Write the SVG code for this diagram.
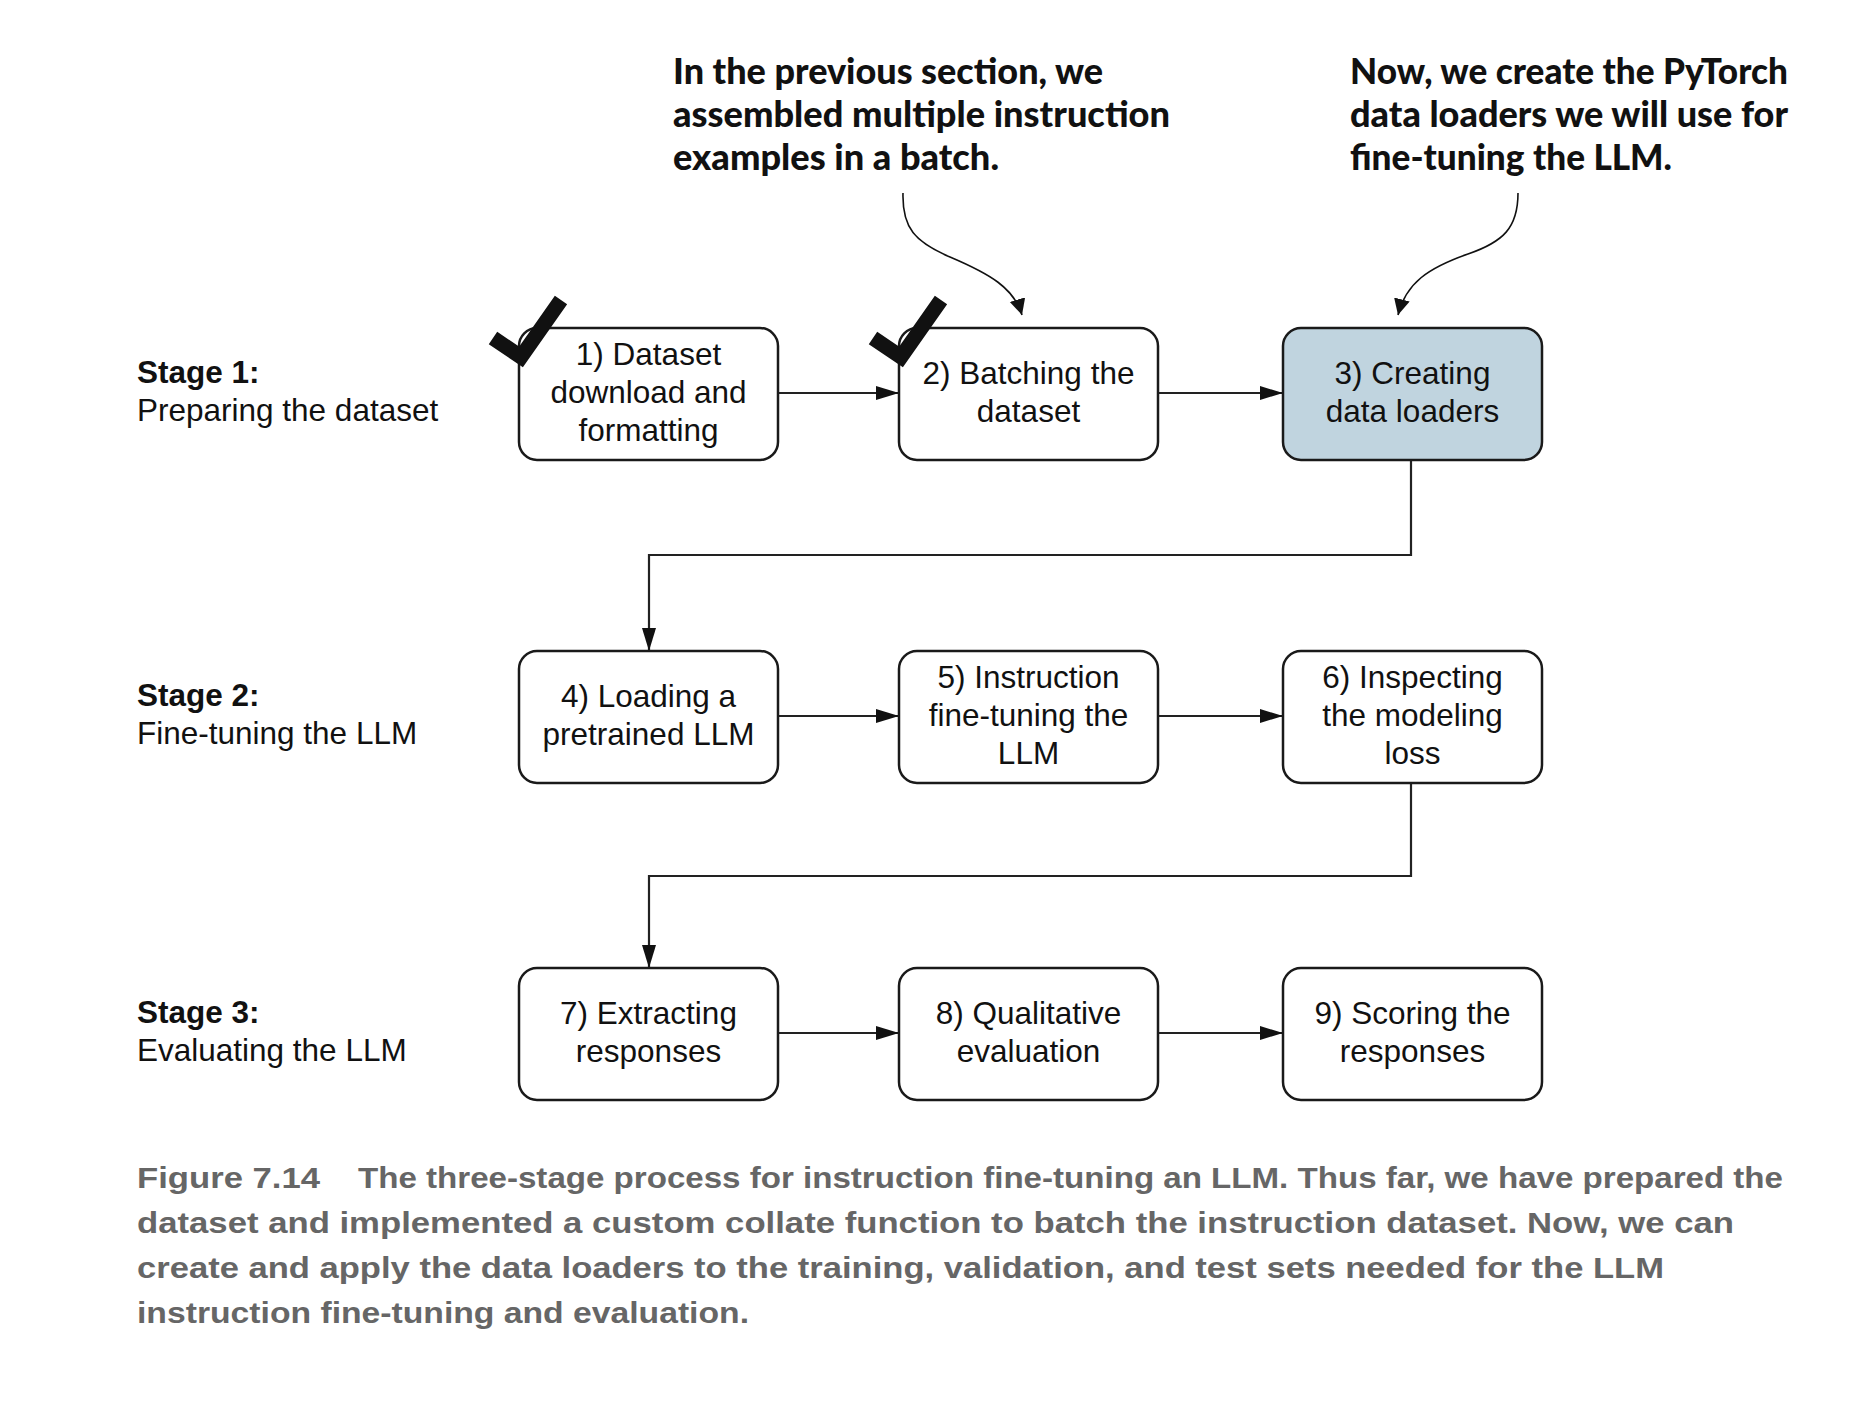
<svg xmlns="http://www.w3.org/2000/svg" width="1858" height="1404" viewBox="0 0 1858 1404">
<defs>
<style>
.box{fill:#ffffff;stroke:#1a1a1a;stroke-width:2.5}
.hl{fill:#c0d4df}
.t{font-family:"Liberation Sans",Arial,sans-serif;font-size:31.5px;fill:#111;text-anchor:middle}
.st{font-family:"Liberation Sans",Arial,sans-serif;font-size:31.5px;fill:#111}
.b{font-weight:bold}
.co{font-family:Lato,"Open Sans",sans-serif;font-weight:900;font-size:36px;fill:#111}
.cap{font-family:"Liberation Sans",Arial,sans-serif;font-weight:bold;font-size:30px;fill:#666666}
.ln{fill:none;stroke:#222;stroke-width:2.2}
.cv{fill:none;stroke:#111;stroke-width:1.6}
.chk{fill:none;stroke:#111;stroke-width:15;stroke-linejoin:miter;stroke-linecap:butt}
</style>
<marker id="ah" markerUnits="userSpaceOnUse" markerWidth="24" markerHeight="14" refX="23" refY="7" orient="auto">
<path d="M0,0 L23,7 L0,14 Z" fill="#111"/>
</marker>
<marker id="ah2" markerUnits="userSpaceOnUse" markerWidth="17" markerHeight="17" refX="16" refY="8" orient="auto">
<path d="M0,0 L16,8 L0,16 Z" fill="#111"/>
</marker>
</defs>
<rect width="1858" height="1404" fill="#ffffff"/>

<g id="callouts">
<g id="callout1">
<text class="co" x="673" y="84" textLength="430" lengthAdjust="spacingAndGlyphs">In the previous section, we</text>
<text class="co" x="673" y="127" textLength="497" lengthAdjust="spacingAndGlyphs">assembled multiple instruction</text>
<text class="co" x="673" y="170" textLength="326" lengthAdjust="spacingAndGlyphs">examples in a batch.</text>
</g>
<g id="callout2">
<text class="co" x="1350" y="84" textLength="438" lengthAdjust="spacingAndGlyphs">Now, we create the PyTorch</text>
<text class="co" x="1350" y="127" textLength="438" lengthAdjust="spacingAndGlyphs">data loaders we will use for</text>
<text class="co" x="1350" y="170" textLength="322" lengthAdjust="spacingAndGlyphs">fine-tuning the LLM.</text>
</g>
</g>

<g id="stages">
<g id="stage1"><text class="st b" x="137" y="383">Stage 1:</text><text class="st" x="137" y="421">Preparing the dataset</text></g>
<g id="stage2"><text class="st b" x="137" y="706">Stage 2:</text><text class="st" x="137" y="744">Fine-tuning the LLM</text></g>
<g id="stage3"><text class="st b" x="137" y="1023">Stage 3:</text><text class="st" x="137" y="1061">Evaluating the LLM</text></g>
</g>

<g id="connectors">
<line class="ln" x1="778" y1="393" x2="899" y2="393" marker-end="url(#ah)"/>
<line class="ln" x1="1158" y1="393" x2="1283" y2="393" marker-end="url(#ah)"/>
<polyline class="ln" points="1411,460 1411,555 649,555 649,651" marker-end="url(#ah)"/>
<line class="ln" x1="778" y1="716" x2="899" y2="716" marker-end="url(#ah)"/>
<line class="ln" x1="1158" y1="716" x2="1283" y2="716" marker-end="url(#ah)"/>
<polyline class="ln" points="1411,783 1411,876 649,876 649,968" marker-end="url(#ah)"/>
<line class="ln" x1="778" y1="1033" x2="899" y2="1033" marker-end="url(#ah)"/>
<line class="ln" x1="1158" y1="1033" x2="1283" y2="1033" marker-end="url(#ah)"/>
<path class="cv" d="M903,193 C902,228 915,242 950,257 C990,274 1014,288 1022,315" marker-end="url(#ah2)"/>
<path class="cv" d="M1518,193 C1518,228 1503,242 1468,254 C1428,268 1406,283 1398,315" marker-end="url(#ah2)"/>
</g>

<g id="n1"><rect class="box" x="519" y="328" width="259" height="132" rx="18"/>
<text class="t" x="648.5" y="365">1) Dataset</text><text class="t" x="648.5" y="403">download and</text><text class="t" x="648.5" y="441">formatting</text></g>
<g id="n2"><rect class="box" x="899" y="328" width="259" height="132" rx="18"/>
<text class="t" x="1028.5" y="384">2) Batching the</text><text class="t" x="1028.5" y="422">dataset</text></g>
<g id="n3"><rect class="box hl" x="1283" y="328" width="259" height="132" rx="18"/>
<text class="t" x="1412.5" y="384">3) Creating</text><text class="t" x="1412.5" y="422">data loaders</text></g>
<g id="n4"><rect class="box" x="519" y="651" width="259" height="132" rx="18"/>
<text class="t" x="648.5" y="707">4) Loading a</text><text class="t" x="648.5" y="745">pretrained LLM</text></g>
<g id="n5"><rect class="box" x="899" y="651" width="259" height="132" rx="18"/>
<text class="t" x="1028.5" y="688">5) Instruction</text><text class="t" x="1028.5" y="726">fine-tuning the</text><text class="t" x="1028.5" y="764">LLM</text></g>
<g id="n6"><rect class="box" x="1283" y="651" width="259" height="132" rx="18"/>
<text class="t" x="1412.5" y="688">6) Inspecting</text><text class="t" x="1412.5" y="726">the modeling</text><text class="t" x="1412.5" y="764">loss</text></g>
<g id="n7"><rect class="box" x="519" y="968" width="259" height="132" rx="18"/>
<text class="t" x="648.5" y="1024">7) Extracting</text><text class="t" x="648.5" y="1062">responses</text></g>
<g id="n8"><rect class="box" x="899" y="968" width="259" height="132" rx="18"/>
<text class="t" x="1028.5" y="1024">8) Qualitative</text><text class="t" x="1028.5" y="1062">evaluation</text></g>
<g id="n9"><rect class="box" x="1283" y="968" width="259" height="132" rx="18"/>
<text class="t" x="1412.5" y="1024">9) Scoring the</text><text class="t" x="1412.5" y="1062">responses</text></g>

<g id="checks">
<polyline class="chk" points="493,338 521,357 561,300"/>
<polyline class="chk" points="873,338 901,357 941,300"/>
</g>

<g id="caption">
<text class="cap" x="137" y="1188" textLength="183" lengthAdjust="spacingAndGlyphs">Figure 7.14</text>
<text class="cap" x="358" y="1188" textLength="1425" lengthAdjust="spacingAndGlyphs">The three-stage process for instruction fine-tuning an LLM. Thus far, we have prepared the</text>
<text class="cap" x="137" y="1233" textLength="1597" lengthAdjust="spacingAndGlyphs">dataset and implemented a custom collate function to batch the instruction dataset. Now, we can</text>
<text class="cap" x="137" y="1278" textLength="1527" lengthAdjust="spacingAndGlyphs">create and apply the data loaders to the training, validation, and test sets needed for the LLM</text>
<text class="cap" x="137" y="1323" textLength="612" lengthAdjust="spacingAndGlyphs">instruction fine-tuning and evaluation.</text>
</g>
</svg>
